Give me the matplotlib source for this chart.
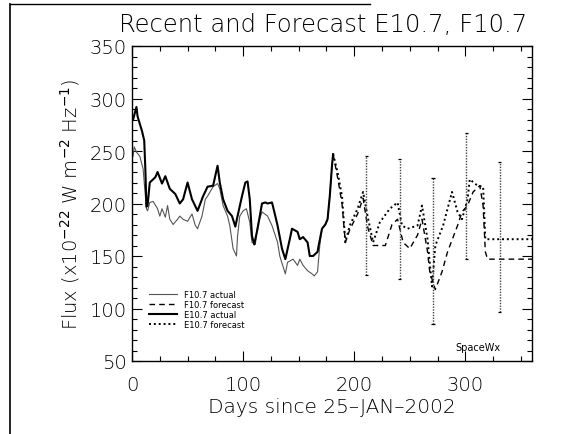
import matplotlib
matplotlib.use("Agg")
import matplotlib.pyplot as plt
from matplotlib.ticker import MultipleLocator
from matplotlib.lines import Line2D

# ---- data ----
e_act_days = [1, 4, 5, 9, 11, 12, 13, 14, 16, 21, 23, 27, 30, 34, 39, 43, 46, 50, 54, 59,
              64, 68, 73, 77, 79, 82, 86, 90, 93, 95, 99, 102, 104, 106, 108, 110, 113,
              117, 120, 122, 126, 129, 131, 135, 138, 142, 144, 149, 151, 154, 158, 160,
              163, 167, 168, 171, 174, 176, 178, 180, 181]
e_act_vals = [280, 292, 283, 269, 260, 233, 197, 198, 220, 225, 230, 219, 226, 214, 209, 200,
              204, 220, 204, 193, 207, 216, 217, 236, 220, 204, 193, 188, 178, 188, 207,
              220, 221, 204, 169, 161, 176, 200, 201, 200, 201, 188, 179, 157, 147, 166,
              176, 173, 166, 168, 163, 150, 150, 154, 160, 176, 180, 185, 207, 236, 247]

f_act_days = [1, 2, 4, 7, 10, 11, 13, 14, 16, 19, 23, 25, 27, 30, 32, 34, 37, 41, 43, 46,
              50, 54, 57, 59, 63, 66, 68, 73, 77, 79, 82, 86, 88, 91, 94, 95, 97, 100, 103,
              106, 108, 111, 113, 117, 122, 126, 131, 133, 138, 140, 145, 149, 151, 154,
              158, 162, 164, 167, 169, 171, 174, 176, 178, 180, 181]
f_act_vals = [245, 254, 249, 245, 233, 220, 195, 193, 201, 202, 195, 188, 195, 187, 198, 185,
              180, 185, 188, 185, 183, 190, 179, 176, 188, 204, 207, 216, 219, 214, 198,
              188, 179, 157, 150, 169, 188, 193, 195, 182, 163, 161, 179, 192, 188, 179,
              163, 150, 133, 144, 147, 141, 147, 141, 136, 133, 131, 135, 160, 176, 180,
              185, 207, 236, 247]

e_fc_days = [181, 185, 189, 192, 196, 203, 208, 212, 217, 223, 232, 239, 243, 248, 257, 261,
             266, 270, 273, 280, 288, 293, 297, 302, 304, 311, 316, 318, 360]
e_fc_vals = [247, 230, 207, 163, 179, 195, 211, 188, 163, 182, 195, 201, 179, 176, 179, 198,
             166, 121, 160, 179, 211, 192, 185, 204, 223, 217, 216, 166, 166]

f_fc_days = [181, 185, 189, 192, 196, 203, 208, 212, 217, 228, 234, 239, 244, 250, 257, 261,
             266, 268, 273, 279, 284, 293, 297, 302, 307, 313, 316, 318, 320, 360]
f_fc_vals = [247, 225, 200, 163, 175, 190, 205, 178, 160, 160, 180, 185, 163, 157, 170, 185,
             154, 135, 118, 135, 154, 179, 192, 198, 211, 217, 198, 154, 147, 147]

err_days = [211, 241, 271, 301, 331]
err_lo = [132, 128, 85, 147, 97]
err_hi = [245, 242, 224, 267, 240]

x_ticks = [0, 100, 200, 300]
y_ticks = [50, 100, 150, 200, 250, 300, 350]

# ---- figure ----
fig = plt.figure(figsize=(5.63, 4.35), dpi=100)
ax = fig.add_axes([132/563, 1-362/435, 400/563, 315/435])

ax.plot(f_act_days, f_act_vals, color="#555555", lw=0.8, label="F10.7 actual")
ax.plot(f_fc_days, f_fc_vals, color="black", lw=1.0, ls=(0, (4, 3)), label="F10.7 forecast")
ax.plot(e_act_days, e_act_vals, color="black", lw=1.5, label="E10.7 actual")
ax.plot(e_fc_days, e_fc_vals, color="black", lw=1.4, ls=(0, (1, 1.5)), label="E10.7 forecast")

ax.vlines(err_days, err_lo, err_hi, colors="#444444", lw=1.0, linestyles=(0, (1, 1)))
ax.hlines(err_lo, [d - 1.5 for d in err_days], [d + 1.5 for d in err_days], colors="black", lw=0.9)
ax.hlines(err_hi, [d - 1.5 for d in err_days], [d + 1.5 for d in err_days], colors="black", lw=0.9)

ax.set_xlim(0, 360)
ax.set_ylim(50, 350)
ax.set_xticks(x_ticks)
ax.set_yticks(y_ticks)
ax.xaxis.set_minor_locator(MultipleLocator(25))
ax.yaxis.set_minor_locator(MultipleLocator(10))
ax.tick_params(which="both", direction="in", top=True, right=True, width=0.8, labelsize=14)
ax.tick_params(which="major", length=7)
ax.tick_params(which="minor", length=3.5)
ax.tick_params(axis="x", pad=10)
for lbl in ax.get_xticklabels() + ax.get_yticklabels():
    lbl.set_fontweight("light")
for s in ax.spines.values():
    s.set_linewidth(1.0)

ax.set_xlabel("Days since 25\u2013JAN\u20132002", fontsize=14.5, labelpad=2, fontweight="light")
ax.set_ylabel("Flux (x10$^{-22}$ W m$^{-2}$ Hz$^{-1}$)", fontsize=14, labelpad=6,
              fontweight="light")
fig.text(527/563, 1-25/435, "Recent and Forecast E10.7, F10.7", fontsize=17.5,
         ha="right", va="center", fontweight="light")

leg = ax.legend(loc="lower left", bbox_to_anchor=(0.035, 0.09), fontsize=6,
                frameon=False, handlelength=3.3, labelspacing=0.15, handletextpad=0.9,
                borderaxespad=0)

ax.text(0.865, 0.045, "SpaceWx", transform=ax.transAxes, fontsize=7, ha="center", va="center")

# figure frame lines (left and top)
fig.add_artist(Line2D([10/563, 10/563], [0, 1-5/435], color="black", lw=1.2))
fig.add_artist(Line2D([10/563, 370/563], [1-5/435, 1-5/435], color="black", lw=1.0))

fig.savefig("out.png", dpi=100)
